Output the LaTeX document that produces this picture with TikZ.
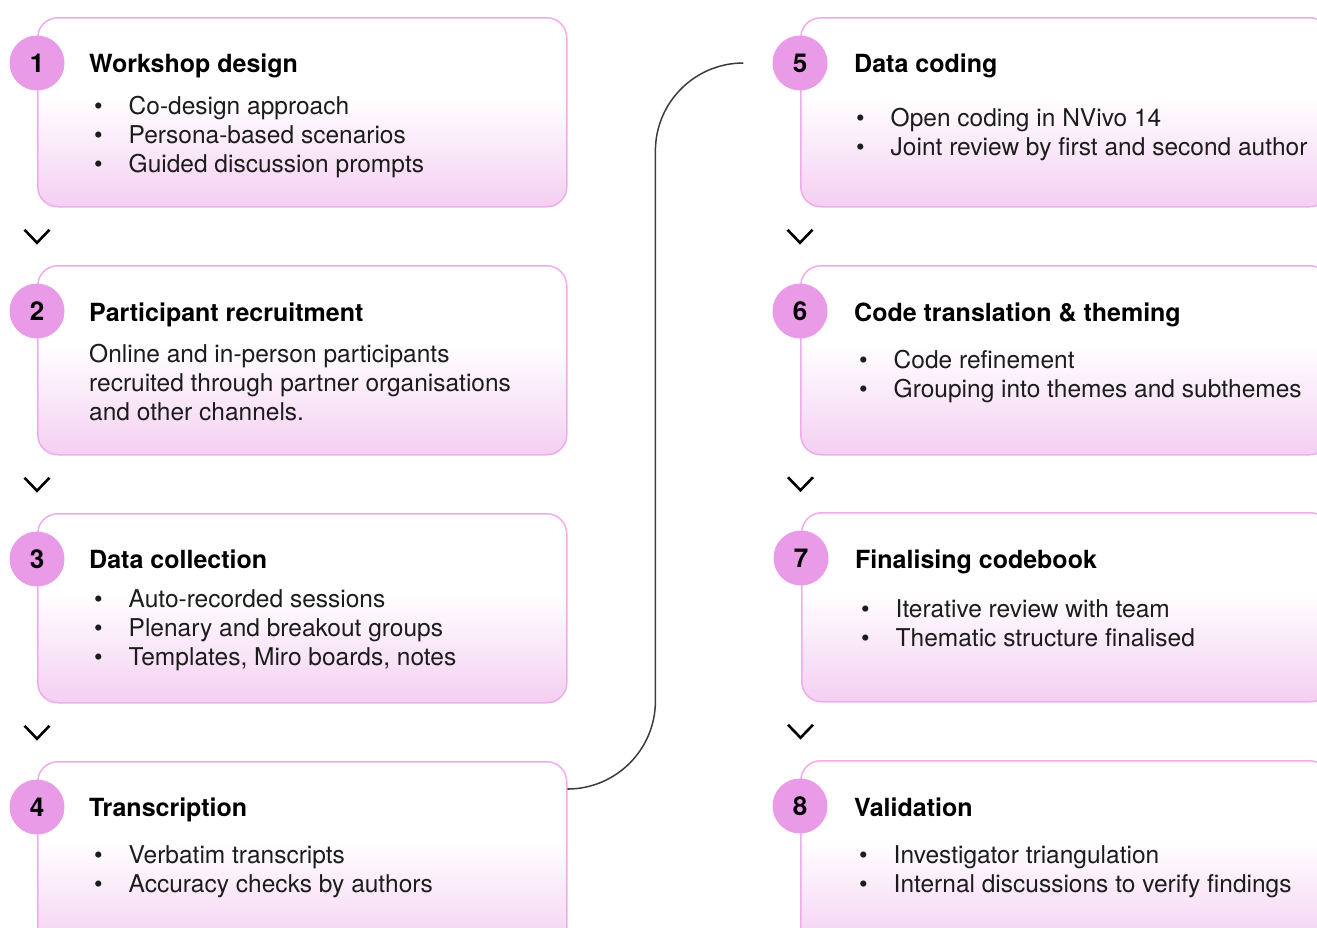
\documentclass[tikz,border=0pt]{standalone}
\usepackage{fontspec}
\setmainfont{TeX Gyre Heros}
\usetikzlibrary{calc,positioning}
\definecolor{stepfill}{RGB}{244,207,242}
\definecolor{stepline}{RGB}{238,172,236}
\definecolor{numfill}{RGB}{233,155,231}
\definecolor{steptext}{RGB}{28,28,28}
\definecolor{linkgray}{RGB}{60,60,60}
\pgfdeclareverticalshading{stepshade}{100bp}{color(0bp)=(stepfill); color(25bp)=(stepfill); color(54bp)=(white); color(100bp)=(white)}
\newcommand\bul{\makebox[34.5pt][l]{\textbullet}}
\tikzset{
  stepbox/.style={
    % The shape:
    rectangle, rounded corners=20pt, anchor=north west,
    % The size:
    minimum width=529pt, minimum height=189pt,
    % The border:
    draw=stepline, line width=1.5pt,
    % The filling:
    shading=stepshade},
  stepnum/.style={
    % The shape:
    circle, minimum size=55pt, inner sep=0pt,
    % The rest
    fill=numfill, font=\fontsize{26}{30}\selectfont\bfseries},
  steptitle/.style={anchor=base west, inner sep=0pt,
    font=\fontsize{25}{29}\selectfont\bfseries},
  stepitem/.style={anchor=base west, inner sep=0pt, text=steptext,
    font=\fontsize{24.5}{29}\selectfont},
  chevron/.style={draw=black, line width=2.6pt},
  link/.style={draw=linkgray, line width=1.5pt, rounded corners=88pt}
}

\begin{document}
\begin{tikzpicture}[x=1pt,y=-1pt]
  \clip (0,0) rectangle (1317,927);

  % Left column
  \node (box1) [stepbox] at (37,17)  {};
  \node (box2) [stepbox] at (37,265) {};
  \node (box3) [stepbox] at (37,513) {};
  \node (box4) [stepbox] at (37,761) {};
  % Right column
  \node (box5) [stepbox] at (800,17)  {};
  \node (box6) [stepbox] at (800,265) {};
  \node (box7) [stepbox] at (801,512) {};
  \node (box8) [stepbox] at (800,760) {};

  \foreach \n in {1,...,8} {
    \node (num\n) [stepnum] at ([yshift=-46pt]box\n.north west) {\n};
  }

  % Titles
  \node (title1) [steptitle] at (89,72)  {Workshop design};
  \node (title2) [steptitle] at (89,321) {Participant recruitment};
  \node (title3) [steptitle] at (89,568) {Data collection};
  \node (title4) [steptitle] at (89,816) {Transcription};
  \node (title5) [steptitle] at (854,72)  {Data coding};
  \node (title6) [steptitle] at (854,321) {Code translation \& theming};
  \node (title7) [steptitle] at (855,568) {Finalising codebook};
  \node (title8) [steptitle] at (854,816) {Validation};

  % Contents
  \foreach \t [count=\i] in {Co-design approach, Persona-based scenarios, Guided discussion prompts}
    \node (item1-\i) [stepitem] at (94,{114.5+29*(\i-1)}) {\bul\t};
  \foreach \t [count=\i] in {Online and in-person participants, recruited through partner organisations, and other channels.}
    \node (item2-\i) [stepitem] at (89,{362.5+28.8*(\i-1)}) {\t};
  \foreach \t [count=\i] in {Auto-recorded sessions, Plenary and breakout groups, {Templates, Miro boards, notes}}
    \node (item3-\i) [stepitem] at (94,{607.5+29*(\i-1)}) {\bul\t};
  \foreach \t [count=\i] in {Verbatim transcripts, Accuracy checks by authors}
    \node (item4-\i) [stepitem] at (94,{863.5+29*(\i-1)}) {\bul\t};
  \foreach \t [count=\i] in {Open coding in NVivo 14, Joint review by first and second author}
    \node (item5-\i) [stepitem] at (856,{126.5+29*(\i-1)}) {\bul\t};
  \foreach \t [count=\i] in {Code refinement, Grouping into themes and subthemes}
    \node (item6-\i) [stepitem] at (859,{368.5+29*(\i-1)}) {\bul\t};
  \foreach \t [count=\i] in {Iterative review with team, Thematic structure finalised}
    \node (item7-\i) [stepitem] at (861,{617.5+29*(\i-1)}) {\bul\t};
  \foreach \t [count=\i] in {Investigator triangulation, Internal discussions to verify findings}
    \node (item8-\i) [stepitem] at (859,{863.5+29*(\i-1)}) {\bul\t};

  % Chevrons between steps
  \foreach \a/\b in {1/2,2/3,3/4,5/6,6/7,7/8} {
    \coordinate (gap\a) at ($(box\a.south west)!0.5!(box\b.north west)$);
    \draw[chevron] ([shift={(-12.5,-6.5)}]gap\a) -- ([shift={(0,6.5)}]gap\a)
                   -- ([shift={(12.5,-6.5)}]gap\a);
  }

  % Link from step 4 to step 5
  \coordinate (out4) at ([yshift=-28pt]box4.north east);
  \coordinate (in5)  at ([xshift=-29pt]num5.west);
  \draw[link] ([xshift=1.5pt]out4) -| ($(out4)!0.5!(in5)$) |- (in5);

\end{tikzpicture}
\end{document}
